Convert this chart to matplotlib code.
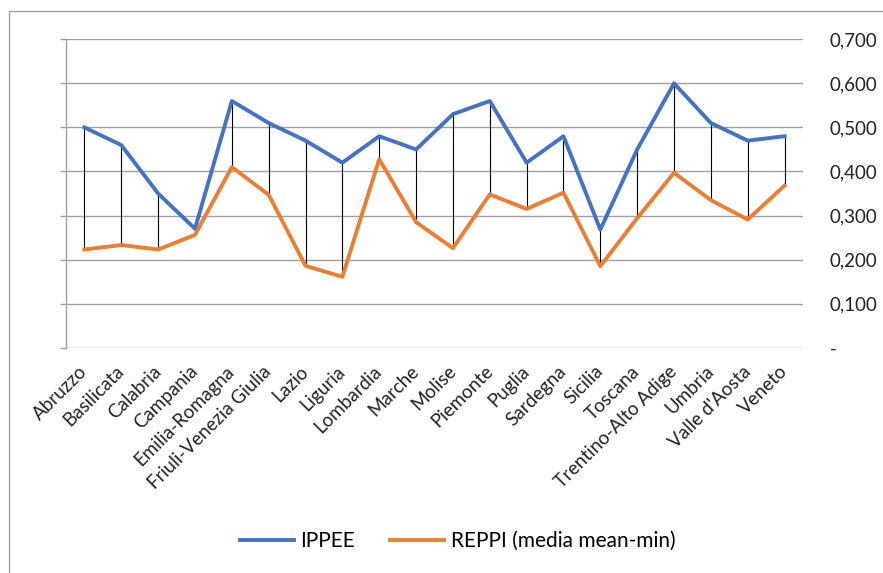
import matplotlib.pyplot as plt
from matplotlib.lines import Line2D

plt.rcParams['font.family'] = ['Lato', 'DejaVu Sans']

regions = ["Abruzzo", "Basilicata", "Calabria", "Campania", "Emilia-Romagna",
           "Friuli-Venezia Giulia", "Lazio", "Liguria", "Lombardia", "Marche",
           "Molise", "Piemonte", "Puglia", "Sardegna", "Sicilia", "Toscana",
           "Trentino-Alto Adige", "Umbria", "Valle d'Aosta", "Veneto"]
ippee = [0.500, 0.460, 0.350, 0.270, 0.560, 0.510, 0.470, 0.420, 0.480, 0.450,
         0.530, 0.560, 0.420, 0.480, 0.268, 0.450, 0.600, 0.510, 0.470, 0.480]
reppi = [0.223, 0.233, 0.223, 0.256, 0.410, 0.347, 0.186, 0.161, 0.428, 0.285,
         0.226, 0.348, 0.315, 0.352, 0.185, 0.294, 0.397, 0.335, 0.291, 0.368]
yticks = [0.0, 0.1, 0.2, 0.3, 0.4, 0.5, 0.6, 0.7]
ytick_labels = ["-", "0,100", "0,200", "0,300", "0,400", "0,500", "0,600", "0,700"]

W, H = 883, 573
fig = plt.figure(figsize=(W / 100, H / 100), dpi=100)
ax = fig.add_axes([66 / W, 1 - 347.7 / H, (803 - 66) / W, (347.7 - 39.3) / H])

x = list(range(len(regions)))
grid_col = "#a0a0a0"

# high-low lines between the two series
ax.vlines(x, reppi, ippee, color="black", linewidth=0.8, zorder=2)
ax.plot(x, ippee, color="#4472C4", linewidth=2.8, label="IPPEE", zorder=3)
ax.plot(x, reppi, color="#ED7D31", linewidth=2.8,
        label="REPPI (media mean-min)", zorder=3)

ax.set_xlim(-0.5, len(regions) - 0.5)
ax.set_ylim(0, 0.7)
ax.set_yticks(yticks)
ax.set_yticklabels(ytick_labels)
ax.grid(axis="y", color=grid_col, linewidth=1.0)
ax.set_axisbelow(True)

for side in ["top", "right", "bottom"]:
    ax.spines[side].set_visible(False)
ax.spines["left"].set_color(grid_col)
ax.spines["left"].set_linewidth(1.0)

ax.tick_params(axis="y", left=True, right=False, labelleft=False, labelright=True,
               length=4.3, width=1.0, color=grid_col, pad=15, labelsize=13.5,
               labelcolor="#222222")
ax.set_xticks(x)
ax.set_xticklabels(regions, rotation=45, ha="right", va="center",
                   rotation_mode="anchor", fontsize=13.5, color="#222222")
ax.tick_params(axis="x", length=0, pad=15)

fig.legend(loc="center", bbox_to_anchor=(0.518, 0.056), ncol=2, frameon=False,
           fontsize=15, handlelength=2.6, handletextpad=0.3, columnspacing=1.7)

# outer chart frame (left and top edges)
fig.add_artist(Line2D([8.5 / W, 8.5 / W], [0, 1 - 10.5 / H], color=grid_col,
                      linewidth=1.0, transform=fig.transFigure))
fig.add_artist(Line2D([8.5 / W, 1], [1 - 10.5 / H, 1 - 10.5 / H], color=grid_col,
                      linewidth=1.0, transform=fig.transFigure))

fig.savefig("out.png", dpi=100)
